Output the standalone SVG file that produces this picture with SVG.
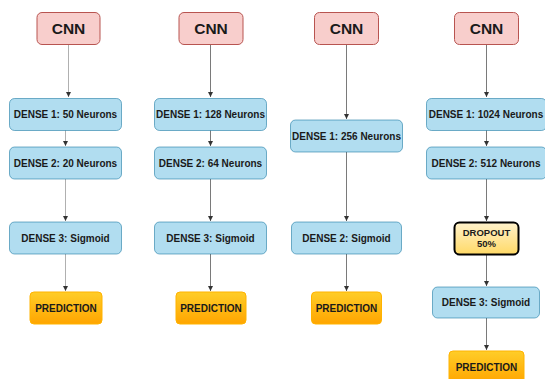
<svg xmlns="http://www.w3.org/2000/svg" width="545" height="379" viewBox="0 0 545 379">
<style>
.cnn{fill:#f8cecc;stroke:#b85450;stroke-width:1}
.dense{fill:#b1ddf0;stroke:#10739e;stroke-opacity:0.55;stroke-width:1}
.pred{fill:url(#gPred);stroke:#ffb300;stroke-width:1}
.drop{fill:url(#gDrop);stroke:#000;stroke-width:2}
.t{font-family:"Liberation Sans",Arial,sans-serif;font-weight:bold;fill:#1a1a1a;text-anchor:middle}
.tc{font-size:15.5px}
.td{font-size:10px}
.e{fill:none;stroke:#7a7a7a;stroke-width:1;marker-end:url(#arr)}
.e1{stroke:#b0b0b0}
</style>
<defs>
<linearGradient id="gPred" x1="0" y1="0" x2="0" y2="1"><stop offset="0" stop-color="#ffcd28"/><stop offset="1" stop-color="#ffa500"/></linearGradient>
<linearGradient id="gDrop" x1="0" y1="0" x2="0" y2="1"><stop offset="0" stop-color="#fff2cc"/><stop offset="1" stop-color="#ffd966"/></linearGradient>
<marker id="arr" markerWidth="6" markerHeight="6" refX="5" refY="3" orient="auto" markerUnits="userSpaceOnUse"><path d="M0,0.5 L5,3 L0,5.5 z" fill="#333"/></marker>
</defs>
<g id="connectors">
<line class="e e1" x1="68.5" y1="44" x2="68.5" y2="97"/>
<line class="e e1" x1="65.5" y1="130" x2="65.5" y2="146"/>
<line class="e e1" x1="65.5" y1="179" x2="65.5" y2="221"/>
<line class="e e1" x1="65.5" y1="254" x2="65.5" y2="291"/>
<line class="e" x1="210.5" y1="44" x2="210.5" y2="97"/>
<line class="e" x1="210.5" y1="130" x2="210.5" y2="146"/>
<line class="e" x1="210.5" y1="179" x2="210.5" y2="221"/>
<line class="e" x1="210.5" y1="254" x2="210.5" y2="291"/>
<line class="e" x1="346.5" y1="44" x2="346.5" y2="119"/>
<line class="e" x1="346.5" y1="152" x2="346.5" y2="221"/>
<line class="e" x1="346.5" y1="254" x2="346.5" y2="291"/>
<line class="e" x1="486.5" y1="44" x2="486.5" y2="97"/>
<line class="e" x1="486.5" y1="130" x2="486.5" y2="146"/>
<line class="e" x1="486.5" y1="179" x2="486.5" y2="221"/>
<line class="e" x1="486.5" y1="255" x2="486.5" y2="286"/>
<line class="e" x1="486.5" y1="318" x2="486.5" y2="350"/>
</g>
<g id="cnn1"><rect class="cnn" x="37" y="12.5" width="63" height="32" rx="5"/><text class="t tc" x="68.5" y="34">CNN</text></g>
<g id="dense1_1"><rect class="dense" x="9.5" y="98.5" width="112" height="32" rx="5"/><text class="t td" x="65.5" y="118">DENSE 1: 50 Neurons</text></g>
<g id="dense1_2"><rect class="dense" x="9.5" y="147" width="112" height="32" rx="5"/><text class="t td" x="65.5" y="166.5">DENSE 2: 20 Neurons</text></g>
<g id="dense1_3"><rect class="dense" x="9.5" y="222" width="112" height="32" rx="5"/><text class="t td" x="65.5" y="241.5">DENSE 3: Sigmoid</text></g>
<g id="pred1"><rect class="pred" x="30" y="292" width="72" height="32" rx="4"/><text class="t td" x="66" y="311.5">PREDICTION</text></g>

<g id="cnn2"><rect class="cnn" x="179" y="12.5" width="64" height="32" rx="5"/><text class="t tc" x="211" y="34">CNN</text></g>
<g id="dense2_1"><rect class="dense" x="154.5" y="98.5" width="112" height="32" rx="5"/><text class="t td" x="210.5" y="118">DENSE 1: 128 Neurons</text></g>
<g id="dense2_2"><rect class="dense" x="154.5" y="147" width="112" height="32" rx="5"/><text class="t td" x="210.5" y="166.5">DENSE 2: 64 Neurons</text></g>
<g id="dense2_3"><rect class="dense" x="154.5" y="222" width="112" height="32" rx="5"/><text class="t td" x="210.5" y="241.5">DENSE 3: Sigmoid</text></g>
<g id="pred2"><rect class="pred" x="176" y="292" width="70" height="32" rx="4"/><text class="t td" x="211" y="311.5">PREDICTION</text></g>

<g id="cnn3"><rect class="cnn" x="314.5" y="12.5" width="64" height="32" rx="5"/><text class="t tc" x="346.5" y="34">CNN</text></g>
<g id="dense3_1"><rect class="dense" x="290.5" y="120" width="112" height="32" rx="5"/><text class="t td" x="346.5" y="139.5">DENSE 1: 256 Neurons</text></g>
<g id="dense3_2"><rect class="dense" x="291.5" y="222" width="110" height="32" rx="5"/><text class="t td" x="346.5" y="241.5">DENSE 2: Sigmoid</text></g>
<g id="pred3"><rect class="pred" x="311.5" y="292" width="70" height="32" rx="4"/><text class="t td" x="346.5" y="311.5">PREDICTION</text></g>

<g id="cnn4"><rect class="cnn" x="454.5" y="12.5" width="64" height="32" rx="5"/><text class="t tc" x="486.5" y="34">CNN</text></g>
<g id="dense4_1"><rect class="dense" x="426.5" y="98.5" width="120" height="32" rx="5"/><text class="t td" x="486" y="118">DENSE 1: 1024 Neurons</text></g>
<g id="dense4_2"><rect class="dense" x="426.5" y="147" width="120" height="32" rx="5"/><text class="t td" x="486" y="166.5">DENSE 2: 512 Neurons</text></g>
<g id="dropout"><rect class="drop" x="454.5" y="222.5" width="64" height="32" rx="5"/><text class="t" x="486.5" y="235.5" style="font-size:9.5px">DROPOUT</text><text class="t" x="486.5" y="247" style="font-size:9.5px">50%</text></g>
<g id="dense4_3"><rect class="dense" x="432.5" y="287" width="107" height="31" rx="5"/><text class="t td" x="486" y="306">DENSE 3: Sigmoid</text></g>
<g id="pred4"><rect class="pred" x="449" y="351" width="75" height="32" rx="4"/><text class="t td" x="486.5" y="370.5">PREDICTION</text></g>
</svg>
